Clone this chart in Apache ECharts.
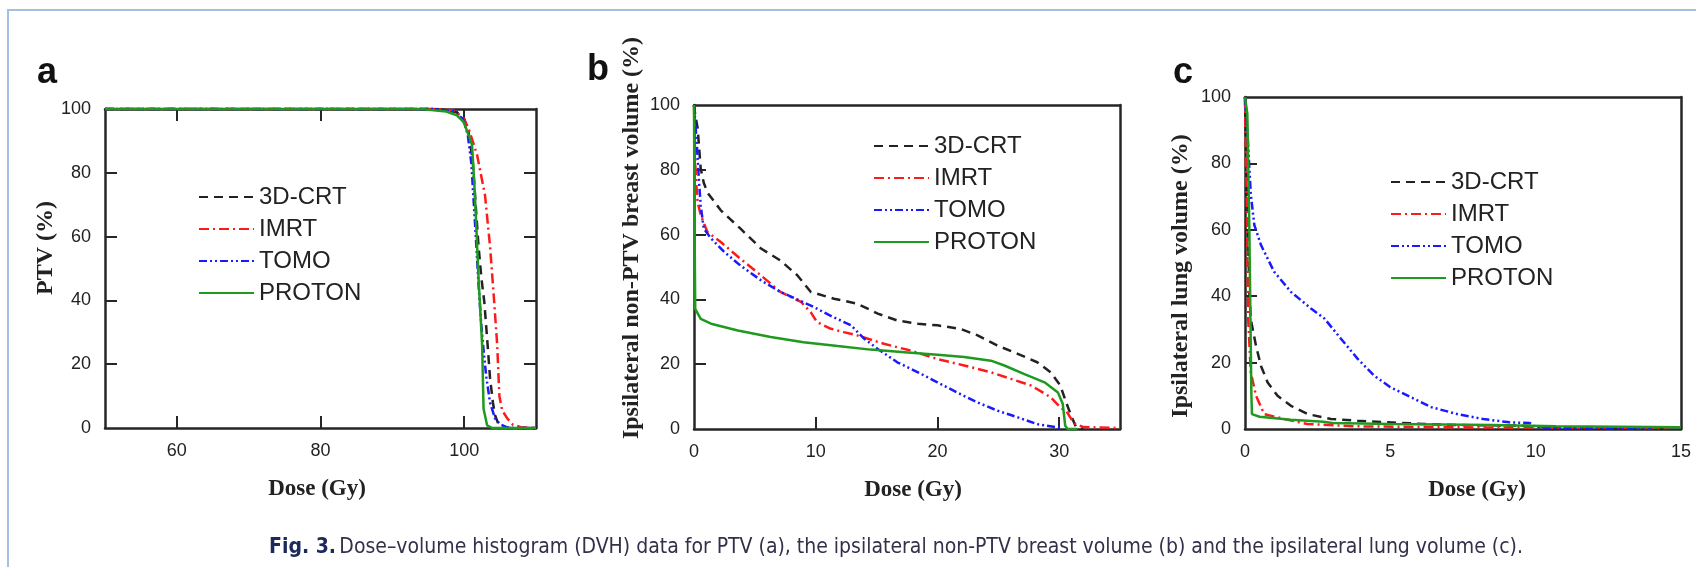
<!DOCTYPE html>
<html>
<head>
<meta charset="utf-8">
<script src="https://cdn.jsdelivr.net/npm/echarts@6/dist/echarts.min.js"></script>
<style>
  html, body { margin: 0; background: #fff; }
  #chart { width: 1696px; height: 567px; }
</style>
</head>
<body>
<div id="chart"></div>
<script>
// method names (legend order)
const methods = ['3D-CRT', 'IMRT', 'TOMO', 'PROTON']

// panel a: PTV, dose (Gy) vs volume (%)
const ptvCrt = [[50, 100], [95, 100], [97, 99.8], [99, 99], [100, 97], [100.6, 93], [101.2, 83.5], [101.6, 70], [102, 57], [102.4, 47], [102.8, 39.6], [103.2, 28], [103.6, 15.7], [104, 8], [104.3, 4], [104.8, 1], [106, 0], [110, 0]]
const ptvImrt = [[50, 100], [96, 100], [98.5, 99.5], [99.8, 97.5], [100.6, 94], [101.8, 85.6], [102.9, 73], [103.6, 57], [104.1, 42], [104.6, 26], [104.9, 10], [105.3, 5.5], [106, 3], [106.8, 1], [108, 0.2], [110, 0]]
const ptvTomo = [[50, 100], [96, 100], [98.5, 99.3], [99.8, 97], [100.5, 92], [101, 83], [101.3, 72], [101.7, 57], [102, 45], [102.4, 32], [102.8, 22], [103.1, 15.7], [103.6, 8], [104.3, 3], [105, 1.2], [106, 0.2], [107, 0], [110, 0]]
const ptvProton = [[50, 100], [94, 100], [97.5, 99.2], [99, 98], [99.9, 96], [100.6, 92], [101.1, 88.7], [101.5, 73], [102, 47], [102.5, 26], [102.7, 6], [103.2, 0.8], [103.9, 0], [110, 0]]

// panel b: ipsilateral non-PTV breast
const breastCrt = [[0, 100], [0.1, 97], [0.3, 92.8], [0.55, 80.4], [0.8, 76], [1.1, 73], [2.2, 67.5], [3.8, 61.9], [5.5, 55.7], [7.1, 52], [8.5, 47.4], [9.6, 42.3], [11.5, 40.2], [13.4, 38.7], [15.1, 35.6], [16.7, 33.5], [18.4, 32.5], [20, 32], [21.9, 30.9], [23.3, 28.9], [24.9, 25.8], [26.6, 23.2], [28.2, 20.6], [29.3, 17.5], [30.1, 13.4], [30.6, 8], [31, 4], [31.4, 0.5], [32, 0]]
const breastImrt = [[0, 100], [0.1, 82], [0.2, 75], [0.3, 70], [0.55, 66], [1.1, 60.8], [2.2, 57.7], [3.8, 52.6], [5.5, 47.4], [7.1, 42.3], [8.8, 39.2], [9.6, 36], [10.1, 33], [11.2, 31], [12.3, 29.9], [13.4, 28.9], [15.6, 26.3], [17.8, 24.2], [20, 21.6], [22.2, 19.6], [24.4, 17.5], [26, 15.5], [27.7, 13.4], [29.3, 9.8], [30.1, 6.7], [30.7, 4.9], [31.2, 1.8], [32, 0.6], [35, 0.3]]
const breastTomo = [[0, 100], [0.1, 95], [0.27, 85.6], [0.4, 77], [0.55, 69], [0.8, 61.9], [1.4, 58.8], [2.5, 54.6], [3.8, 50.5], [5.5, 45.9], [7.1, 42.3], [9.6, 38.1], [11.2, 35], [12.9, 32], [14, 27.8], [15.1, 24.7], [16.7, 20.6], [18.4, 17.5], [20, 14.4], [21.6, 11.3], [23.3, 8.2], [24.9, 5.7], [26.6, 3.6], [28.2, 1.5], [29.9, 0.5], [30.3, 0]]
const breastProton = [[0, 100], [0.05, 60], [0.1, 37.1], [0.55, 34], [1.4, 32.5], [3.6, 30.4], [6.3, 28.4], [9, 26.8], [11.8, 25.6], [14.5, 24.5], [17.3, 23.7], [20, 22.9], [22.2, 22.2], [24.4, 21.1], [25.5, 19.6], [27.1, 17], [28.8, 14.4], [29.9, 11.3], [30.3, 7.7], [30.5, 1], [30.7, 0], [31.5, 0]]

// panel c: ipsilateral lung
const lungCrt = [[0, 100], [0.05, 80], [0.1, 60], [0.15, 41], [0.2, 33], [0.38, 25], [0.55, 19], [0.78, 14], [1.12, 10], [1.58, 7], [2.15, 4.5], [2.96, 3], [3.87, 2.5], [5, 2], [6.2, 1.5], [7.3, 1.2], [9.6, 1], [10.7, 0.5], [14.5, 0.3]]
const lungImrt = [[0, 100], [0.03, 83], [0.07, 63.5], [0.11, 33], [0.2, 17], [0.38, 10], [0.66, 4.5], [1.35, 3], [2.15, 1.5], [3.87, 0.8], [7.3, 0.5], [14.5, 0.3]]
const lungTomo = [[0, 100], [0.03, 95.8], [0.09, 88.7], [0.15, 78.6], [0.2, 70.6], [0.32, 61.5], [0.55, 55.4], [1, 47.4], [1.58, 41.3], [2.27, 36.3], [2.73, 33.3], [3.3, 27.2], [3.87, 21.2], [4.44, 16.1], [5, 12.6], [5.7, 9.6], [6.4, 6.6], [7.3, 4.5], [8.2, 3], [9.1, 2], [9.8, 1.8], [10, 0.5], [11, 0.3], [14, 0.2]]
const lungProton = [[0, 100], [0.08, 95], [0.15, 60], [0.22, 10], [0.24, 4.5], [0.5, 3.7], [1.58, 2.8], [2.7, 2.2], [3, 1.8], [5, 1.5], [8.5, 1.2], [10.7, 0.8], [15, 0.5]]

// tick labels
const aXTicks = [60, 80, 100]
const bXTicks = [0, 10, 20, 30]
const cXTicks = [0, 5, 10, 15]
const yInnerTicks = [20, 40, 60, 80]

const caption = 'Dose–volume histogram (DVH) data for PTV (a), the ipsilateral non-PTV breast volume (b) and the ipsilateral lung volume (c).'

const styles = {
  '3D-CRT': { color: '#222222', type: [9, 6] },
  'IMRT': { color: '#ff1a1a', type: [10, 4, 2, 4] },
  'TOMO': { color: '#1a1aff', type: [8, 3, 2, 3, 2, 3] },
  'PROTON': { color: '#1f9a1f', type: 'solid' }
}

const panelData = [
  [ptvCrt, ptvImrt, ptvTomo, ptvProton],
  [breastCrt, breastImrt, breastTomo, breastProton],
  [lungCrt, lungImrt, lungTomo, lungProton]
]

const grids = [
  { left: 105, top: 109, width: 431, height: 319 },
  { left: 694, top: 105, width: 426, height: 324 },
  { left: 1245, top: 97, width: 436, height: 332 }
]
const xRanges = [[50, 110], [0, 35], [0, 15]]
const xTickSets = [aXTicks, bXTicks, cXTicks]
const namePad = [[0, 7, 0, 0], [0, 0, 0, 12], [0, 0, 0, 28]]
const legendPos = [{ left: 198, top: 185 }, { left: 873, top: 134 }, { left: 1390, top: 170 }]

const axisColor = '#262626'
const serif = 'Liberation Serif, Times New Roman, serif'
const sans = 'Liberation Sans, Arial, sans-serif'
const labelStyle = { color: '#222', fontSize: 18, fontFamily: sans }
const frameLine = { show: true, onZero: false, lineStyle: { color: axisColor, width: 2.5 } }

const xAxis = []
const yAxis = []
const series = []
const legend = []

grids.forEach((g, i) => {
  // bottom axis
  xAxis.push({
    type: 'value',
    gridIndex: i,
    min: xRanges[i][0],
    max: xRanges[i][1],
    name: 'Dose (Gy)',
    nameLocation: 'middle',
    nameGap: 50,
    nameTextStyle: { fontFamily: serif, fontWeight: 'bold', fontSize: 23, color: '#222', padding: namePad[i] },
    axisLine: frameLine,
    axisTick: { show: i !== 2, inside: true, length: 12, customValues: xTickSets[i].filter(v => v > xRanges[i][0] && v < xRanges[i][1]), lineStyle: { color: axisColor, width: 2 } },
    axisLabel: { margin: 14, customValues: xTickSets[i], ...labelStyle },
    splitLine: { show: false }
  })
  // left axis
  yAxis.push({
    type: 'value',
    gridIndex: i,
    min: 0,
    max: 100,
    interval: 20,
    axisLine: frameLine,
    axisTick: { show: true, inside: true, length: 12, customValues: yInnerTicks, lineStyle: { color: axisColor, width: 2 } },
    axisLabel: { margin: 14, ...labelStyle },
    splitLine: { show: false }
  })
})

// top and right frame axes
grids.forEach((g, i) => {
  xAxis.push({
    type: 'value',
    gridIndex: i,
    position: 'top',
    min: xRanges[i][0],
    max: xRanges[i][1],
    axisLine: frameLine,
    axisTick: { show: i === 0, inside: true, length: 12, customValues: aXTicks, lineStyle: { color: axisColor, width: 2 } },
    axisLabel: { show: false },
    splitLine: { show: false }
  })
  yAxis.push({
    type: 'value',
    gridIndex: i,
    position: 'right',
    min: 0,
    max: 100,
    interval: 20,
    axisLine: frameLine,
    axisTick: { show: i === 0, inside: true, length: 12, customValues: yInnerTicks, lineStyle: { color: axisColor, width: 2 } },
    axisLabel: { show: false },
    splitLine: { show: false }
  })
})

panelData.forEach((set, i) => {
  set.forEach((data, k) => {
    const name = methods[k]
    series.push({
      name: name,
      type: 'line',
      xAxisIndex: i,
      yAxisIndex: i,
      data: data,
      symbol: 'none',
      clip: false,
      z: 3,
      lineStyle: { color: styles[name].color, width: 2.5, type: styles[name].type },
      itemStyle: { color: styles[name].color },
      animation: false
    })
  })
  legend.push({
    data: methods,
    orient: 'vertical',
    left: legendPos[i].left,
    top: legendPos[i].top,
    padding: 0,
    itemWidth: 55,
    itemHeight: 14,
    itemGap: 8,
    selectedMode: false,
    itemStyle: { opacity: 0 },
    textStyle: { fontFamily: sans, fontSize: 24, lineHeight: 24, color: '#222' }
  })
})

const graphic = [
  // light blue page frame
  { type: 'polyline', shape: { points: [[8, 567], [8, 10], [1696, 10]] }, style: { stroke: '#a3c0e3', lineWidth: 2, fill: null } },
  // panel letters
  { type: 'text', x: 47, y: 73, style: { text: 'a', font: 'bold 36px ' + sans, fill: '#111', align: 'center', verticalAlign: 'middle' } },
  { type: 'text', x: 598, y: 70, style: { text: 'b', font: 'bold 36px ' + sans, fill: '#111', align: 'center', verticalAlign: 'middle' } },
  { type: 'text', x: 1183, y: 73, style: { text: 'c', font: 'bold 36px ' + sans, fill: '#111', align: 'center', verticalAlign: 'middle' } },
  // y axis names
  { type: 'text', x: 46, y: 248, rotation: Math.PI / 2, style: { text: 'PTV (%)', font: 'bold 24px ' + serif, fill: '#222', align: 'center', verticalAlign: 'middle' } },
  { type: 'text', x: 632, y: 238, rotation: Math.PI / 2, style: { text: 'Ipsilateral non-PTV breast volume (%)', font: 'bold 24px ' + serif, fill: '#222', align: 'center', verticalAlign: 'middle' } },
  { type: 'text', x: 1181, y: 276, rotation: Math.PI / 2, style: { text: 'Ipsilateral lung volume (%)', font: 'bold 24px ' + serif, fill: '#222', align: 'center', verticalAlign: 'middle' } },
  // caption
  {
    type: 'text',
    x: 896,
    y: 548,
    style: {
      text: '{b|Fig. 3.} {t|' + caption + '}',
      align: 'center',
      verticalAlign: 'middle',
      rich: {
        b: { font: 'bold 21px DejaVu Sans Condensed, Liberation Sans Narrow, sans-serif', fill: '#1c2a5a' },
        t: { font: '21px DejaVu Sans Condensed, Liberation Sans Narrow, sans-serif', fill: '#33304a' }
      }
    }
  }
]

const chart = echarts.init(document.getElementById('chart'))
chart.setOption({
  backgroundColor: '#ffffff',
  animation: false,
  grid: grids,
  xAxis: xAxis,
  yAxis: yAxis,
  legend: legend,
  series: series,
  graphic: graphic
})
</script>
</body>
</html>
